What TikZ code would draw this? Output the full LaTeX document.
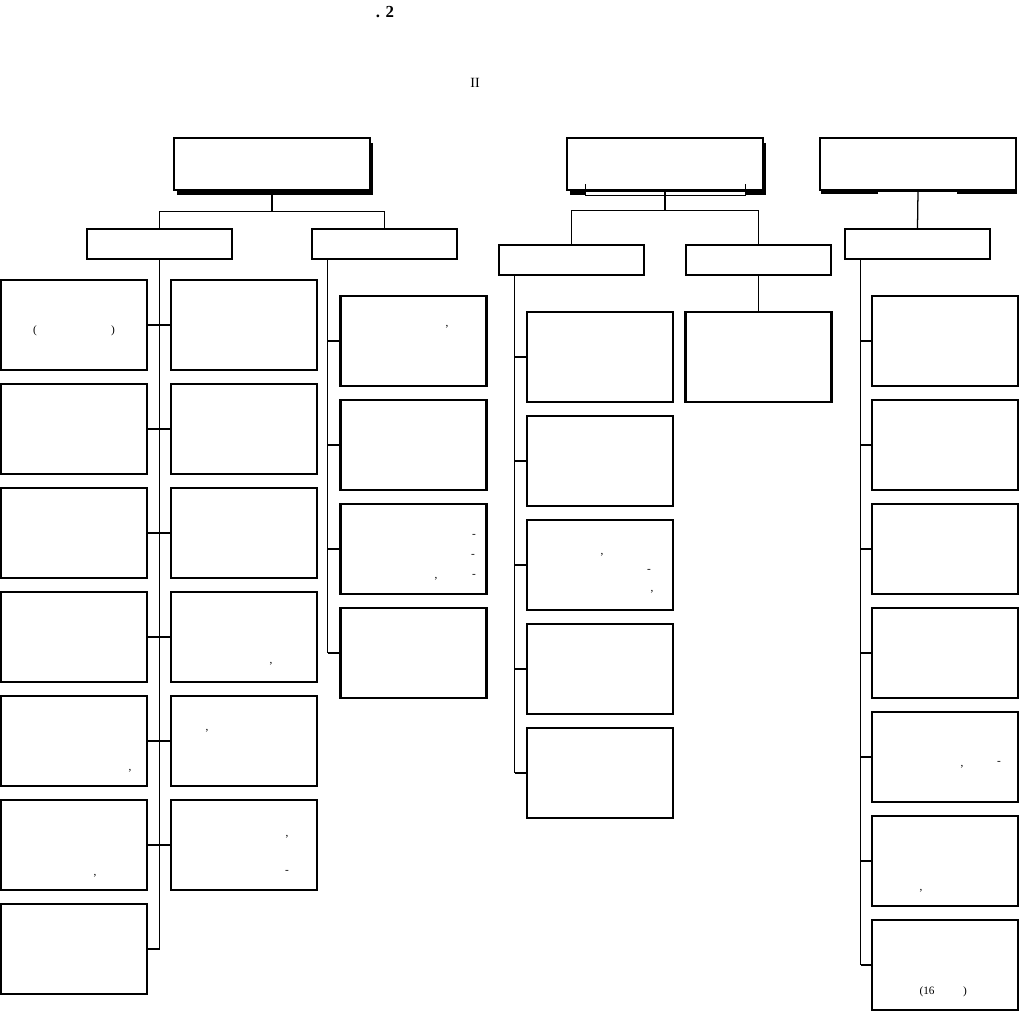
\documentclass[tikz,border=0pt]{standalone}
\usepackage{fontspec}
\setmainfont{Liberation Serif}
\usetikzlibrary{shadows}
\begin{document}
\begin{tikzpicture}[x=0.025cm, y=-0.025cm, every node/.style={font=\fontsize{8}{9}\selectfont, inner sep=0pt}]
  \tikzstyle{box}=[draw,line width=1.6pt,fill=white]
  \tikzstyle{topbox}=[box,minimum width=4.9cm,minimum height=1.3cm]
  \tikzstyle{shadowed}=[drop shadow={shadow xshift=2pt,shadow yshift=-3.7pt,fill=black,opacity=1}]
  \tikzstyle{flatshadow}=[drop shadow={shadow xshift=0.7pt,shadow yshift=-2.8pt,fill=black,opacity=1}]
  \tikzstyle{midbox}=[box,minimum width=3.625cm,minimum height=0.75cm]
  \tikzstyle{leaf}=[box,minimum width=3.65cm,minimum height=2.25cm]
  \tikzstyle{bus}=[line width=0.9pt]
  \tikzstyle{twig}=[line width=1.5pt]
  \useasboundingbox (0,0) rectangle (1021,1013);

  % headings
  \node[font=\bfseries\fontsize{12}{13}\selectfont] (ttl) at (385,12) {. 2};
  \node[font=\fontsize{10}{11}\selectfont] (sub) at (475,83) {II};

  % top boxes
  \node[topbox,shadowed] (t1) at (272,164) {};
  \node[topbox,shadowed] (t2) at (665,164) {};
  \fill[white] (585,192.4) rectangle (745,195.8);
  \draw[line width=0.4pt] (585,184) |- (745,195.5) -- (745,184);
  \node[topbox,flatshadow] (t3) at (918,164) {};
  \fill[white] (878,192.4) rectangle (957,196.5);

  % second level
  \node[midbox] (l1) at (159.5,244) {};
  \node[midbox] (l2) at (384.5,244) {};
  \node[midbox] (m1) at (571.5,260) {};
  \node[midbox] (m2) at (758.5,260) {};
  \node[midbox] (r1) at (917.5,244) {};

  % leaves
  \foreach \i in {1,...,7} \node[leaf] (a\i) at (74,221+104*\i) {};
  \foreach \i in {1,...,6} \node[leaf] (b\i) at (244,221+104*\i) {};
  \foreach \i in {1,...,4} \node[leaf] (c\i) at (413.5,237+104*\i) {};
  \foreach \i in {1,...,5} \node[leaf] (d\i) at (600,253+104*\i) {};
  \node[leaf] (e1) at (758.5,357) {};
  \foreach \i in {1,...,7} \node[leaf] (f\i) at (945,237+104*\i) {};

  % buses
  \draw[bus] (t1.south) -- ++(0,20) coordinate (t1b);
  \draw[bus] (l1.north) |- (t1b) -| (l2.north);
  \draw[bus] (t2.south) -- ++(0,19) coordinate (t2b);
  \draw[bus] (m1.north) |- (t2b) -| (m2.north);
  \draw[bus] (t3.south) -- (r1.north);
  \draw[bus] (m2.south) -- (e1.north);

  % spines
  \draw[bus] (l1.south) -- (l1.south |- a7.east);
  \foreach \i in {1,...,6} \draw[twig] (a\i.east) -- (b\i.west);
  \draw[twig] (a7.east) -- (a7.east -| l1.south);

  \path (l2.south west) ++(17,0) coordinate (l2s);
  \draw[bus] (l2s) -- (l2s |- c4.west);
  \foreach \i in {1,...,4} \draw[twig] (c\i.west) -- (c\i.west -| l2s);

  \path (m1.south west) ++(17,0) coordinate (m1s);
  \draw[bus] (m1s) -- (m1s |- d5.west);
  \foreach \i in {1,...,5} \draw[twig] (d\i.west) -- (d\i.west -| m1s);

  \path (r1.south west) ++(17,0) coordinate (r1s);
  \draw[bus] (r1s) -- (r1s |- f7.west);
  \foreach \i in {1,...,7} \draw[twig] (f\i.west) -- (f\i.west -| r1s);

  % stray marks
  \node (p1) at (35,331) {(};
  \node (p2) at (113,331) {)};
  \node (p3) at (447,327) {,};
  \node (p4) at (474,536) {-};
  \node (p5) at (473,556) {-};
  \node (p6) at (474,576) {-};
  \node (p7) at (436,579) {,};
  \node (p8) at (602,555) {,};
  \node (p9) at (649,571) {-};
  \node (p10) at (652,592) {,};
  \node (p11) at (130,771) {,};
  \node (p12) at (95,876) {,};
  \node (p13) at (271,664) {,};
  \node (p14) at (207,731) {,};
  \node (p15) at (287,837) {,};
  \node (p16) at (287,872) {-};
  \node (p17) at (962,767) {,};
  \node (p18) at (999,763) {-};
  \node (p19) at (921,891) {,};
  \node (p20) at (927,992) {(16};
  \node (p21) at (965,992) {)};
\end{tikzpicture}
\end{document}
